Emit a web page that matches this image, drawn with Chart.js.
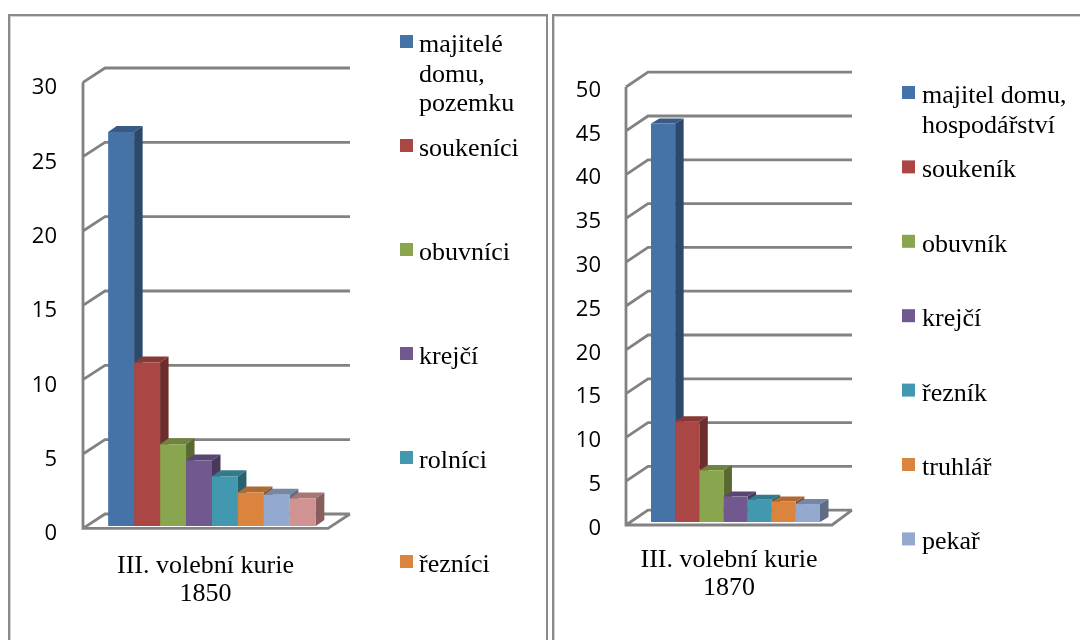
<!DOCTYPE html>
<html lang="cs">
<head>
<meta charset="utf-8">
<title>III. volební kurie 1850 a 1870</title>
<script src="https://cdn.jsdelivr.net/npm/chart.js@4.4.1/dist/chart.umd.min.js"></script>
<style>
  html, body { margin: 0; padding: 0; background: #fff; }
  body { width: 1080px; height: 640px; position: relative; overflow: hidden; }
  .ramecek { position: absolute; top: 14px; height: 700px; box-sizing: border-box;
             border: 2px solid #8a8a8a; box-shadow: inset 1px 1px 0 #d2d2d2; }
  #ram1 { left: 8px; width: 540px; }
  #ram2 { left: 552px; width: 600px; }
  canvas { position: absolute; top: 0; }
  #graf1850 { left: 0; }
  #graf1870 { left: 550px; }
</style>
</head>
<body>
<div class="ramecek" id="ram1"></div>
<div class="ramecek" id="ram2"></div>
<canvas id="graf1850" width="550" height="640"></canvas>
<canvas id="graf1870" width="530" height="640"></canvas>
<script>
// data - graf 1850
const kategorie1850 = [['III. volební kurie', '1850']];
const profese1850 = ['majitelé domu, pozemku', 'soukeníci', 'obuvníci', 'krejčí', 'rolníci', 'řezníci', 'řada 7', 'řada 8'];
const hodnoty1850 = [26.5, 11, 5.5, 4.4, 3.35, 2.25, 2.1, 1.85];
const osaY1850 = [0, 5, 10, 15, 20, 25, 30];

// data - graf 1870
const kategorie1870 = [['III. volební kurie', '1870']];
const profese1870 = ['majitel domu, hospodářství', 'soukeník', 'obuvník', 'krejčí', 'řezník', 'truhlář', 'pekař'];
const hodnoty1870 = [45.5, 11.5, 5.9, 2.9, 2.55, 2.35, 2.05];
const osaY1870 = [0, 5, 10, 15, 20, 25, 30, 35, 40, 45, 50];

const barvy = ['#4572A7', '#AA4643', '#89A54E', '#71588F', '#4198AF', '#DB843D', '#93A9CF', '#D19392'];

function ztmavit(hex, f) {
    const n = parseInt(hex.slice(1), 16);
    const r = Math.round(((n >> 16) & 255) * f);
    const g = Math.round(((n >> 8) & 255) * f);
    const b = Math.round((n & 255) * f);
    return `rgb(${r},${g},${b})`;
}

function zalomit(ctx, text, sirka) {
    const slova = text.split(' ');
    const radky = [];
    let radek = '';
    slova.forEach(s => {
        const zkus = radek ? radek + ' ' + s : s;
        if (radek && ctx.measureText(zkus).width > sirka) {
            radky.push(radek);
            radek = s;
        } else {
            radek = zkus;
        }
    });
    if (radek) radky.push(radek);
    return radky;
}

// 3D stěny, bočnice sloupců a legenda vpravo
const prostor3D = {
    id: 'prostor3D',
    beforeDatasetsDraw(chart, args, o) {
        const ctx = chart.ctx;
        const sy = chart.scales.y;
        const y0 = sy.getPixelForValue(0);
        const yMax = sy.getPixelForValue(sy.max);
        ctx.save();
        ctx.strokeStyle = '#828282';
        ctx.lineWidth = 2.8;
        ctx.beginPath();
        sy.ticks.forEach(t => {
            const p = sy.getPixelForValue(t.value);
            ctx.moveTo(o.predniX, p + o.predniDy);
            ctx.lineTo(o.zadniX, p + o.zadniDy);
            ctx.lineTo(o.zadniPravo, p + o.zadniDy);
        });
        ctx.moveTo(o.predniX, yMax + o.predniDy);
        ctx.lineTo(o.predniX, y0 + o.predniDy);
        ctx.lineTo(o.podlahaPravo, y0 + o.predniDy);
        ctx.lineTo(o.zadniPravo, y0 + o.zadniDy);
        ctx.stroke();

        // horní a boční stěny sloupců (přední stěnu kreslí Chart.js)
        chart.data.datasets.forEach((ds, i) => {
            const el = chart.getDatasetMeta(i).data[0];
            const { x, y, base, width } = el.getProps(['x', 'y', 'base', 'width'], true);
            const l = x - width / 2, r = x + width / 2;
            ctx.fillStyle = ztmavit(ds.backgroundColor, 0.8);
            ctx.beginPath();
            ctx.moveTo(l, y);
            ctx.lineTo(l + o.hloubkaX, y + o.hloubkaY);
            ctx.lineTo(r + o.hloubkaX, y + o.hloubkaY);
            ctx.lineTo(r, y);
            ctx.closePath();
            ctx.fill();
            ctx.fillStyle = ztmavit(ds.backgroundColor, 0.64);
            ctx.beginPath();
            ctx.moveTo(r, y);
            ctx.lineTo(r + o.hloubkaX, y + o.hloubkaY);
            ctx.lineTo(r + o.hloubkaX, base + o.hloubkaY);
            ctx.lineTo(r, base);
            ctx.closePath();
            ctx.fill();
        });
        ctx.restore();
    },
    afterDraw(chart, args, o) {
        const ctx = chart.ctx;
        const lg = o.legenda;
        ctx.save();
        ctx.font = '26px "Liberation Serif"';
        ctx.textBaseline = 'alphabetic';
        chart.data.datasets.slice(0, lg.pocet).forEach((ds, i) => {
            const yc = lg.prvniY + i * lg.krok;
            ctx.fillStyle = ds.backgroundColor;
            ctx.fillRect(lg.ctverecX, yc - 8, 13, 13);
            ctx.fillStyle = '#000';
            zalomit(ctx, ds.label, lg.sirka).forEach((t, j) => {
                ctx.fillText(t, lg.textX, yc + 9 + j * lg.radek);
            });
        });
        ctx.restore();
    }
};

function vytvorGraf(id, kategorie, profese, hodnoty, osaY, nast) {
    const datasets = profese.map((p, i) => ({
        label: p,
        data: [hodnoty[i]],
        backgroundColor: barvy[i],
        borderWidth: 0
    }));
    return new Chart(document.getElementById(id), {
        type: 'bar',
        data: { labels: kategorie, datasets },
        options: {
            responsive: false,
            animation: false,
            events: [],
            categoryPercentage: nast.podil,
            barPercentage: 1,
            layout: { padding: nast.okraje },
            plugins: {
                legend: { display: false },
                tooltip: { enabled: false },
                prostor3D: nast.prostor
            },
            scales: {
                x: {
                    grid: { display: false, drawTicks: false },
                    border: { display: false },
                    afterFit: s => { s.height = 100; },
                    ticks: {
                        color: '#000',
                        font: { family: 'Liberation Serif', size: 26, lineHeight: 1.08 },
                        padding: nast.odsazeniX,
                        labelOffset: -6.5,
                        maxRotation: 0
                    }
                },
                y: {
                    min: osaY[0],
                    max: osaY[osaY.length - 1],
                    grid: { display: false, drawTicks: false },
                    border: { display: false },
                    afterFit: s => { s.width = 60; },
                    afterBuildTicks: s => { s.ticks = osaY.map(v => ({ value: v })); },
                    ticks: {
                        color: '#000',
                        font: { family: 'Open Sans', size: 22 },
                        padding: nast.odsazeniY,
                        labelOffset: nast.posunY
                    }
                }
            }
        },
        plugins: [prostor3D]
    });
}

vytvorGraf('graf1850', kategorie1850, profese1850, hodnoty1850, osaY1850, {
    podil: 0.8375,
    okraje: { left: 28, right: 214, top: 80, bottom: 14 },
    odsazeniX: 26,
    odsazeniY: 31,
    posunY: 8,
    prostor: {
        predniX: 83, predniDy: 2.3, zadniX: 105, zadniDy: -12,
        zadniPravo: 350, podlahaPravo: 328, hloubkaX: 8.5, hloubkaY: -6,
        legenda: { pocet: 6, ctverecX: 400, textX: 419, prvniY: 43, krok: 104, radek: 29.5, sirka: 125 }
    }
});

vytvorGraf('graf1870', kategorie1870, profese1870, hodnoty1870, osaY1870, {
    podil: 0.8086,
    okraje: { left: 21, right: 240, top: 84, bottom: 18 },
    odsazeniX: 24.5,
    odsazeniY: 30,
    posunY: 6.5,
    prostor: {
        predniX: 76, predniDy: 3, zadniX: 98, zadniDy: -11.8,
        zadniPravo: 302, podlahaPravo: 282, hloubkaX: 8.5, hloubkaY: -5,
        legenda: { pocet: 7, ctverecX: 352, textX: 372, prvniY: 94, krok: 74.4, radek: 30, sirka: 155 }
    }
});
</script>
</body>
</html>
